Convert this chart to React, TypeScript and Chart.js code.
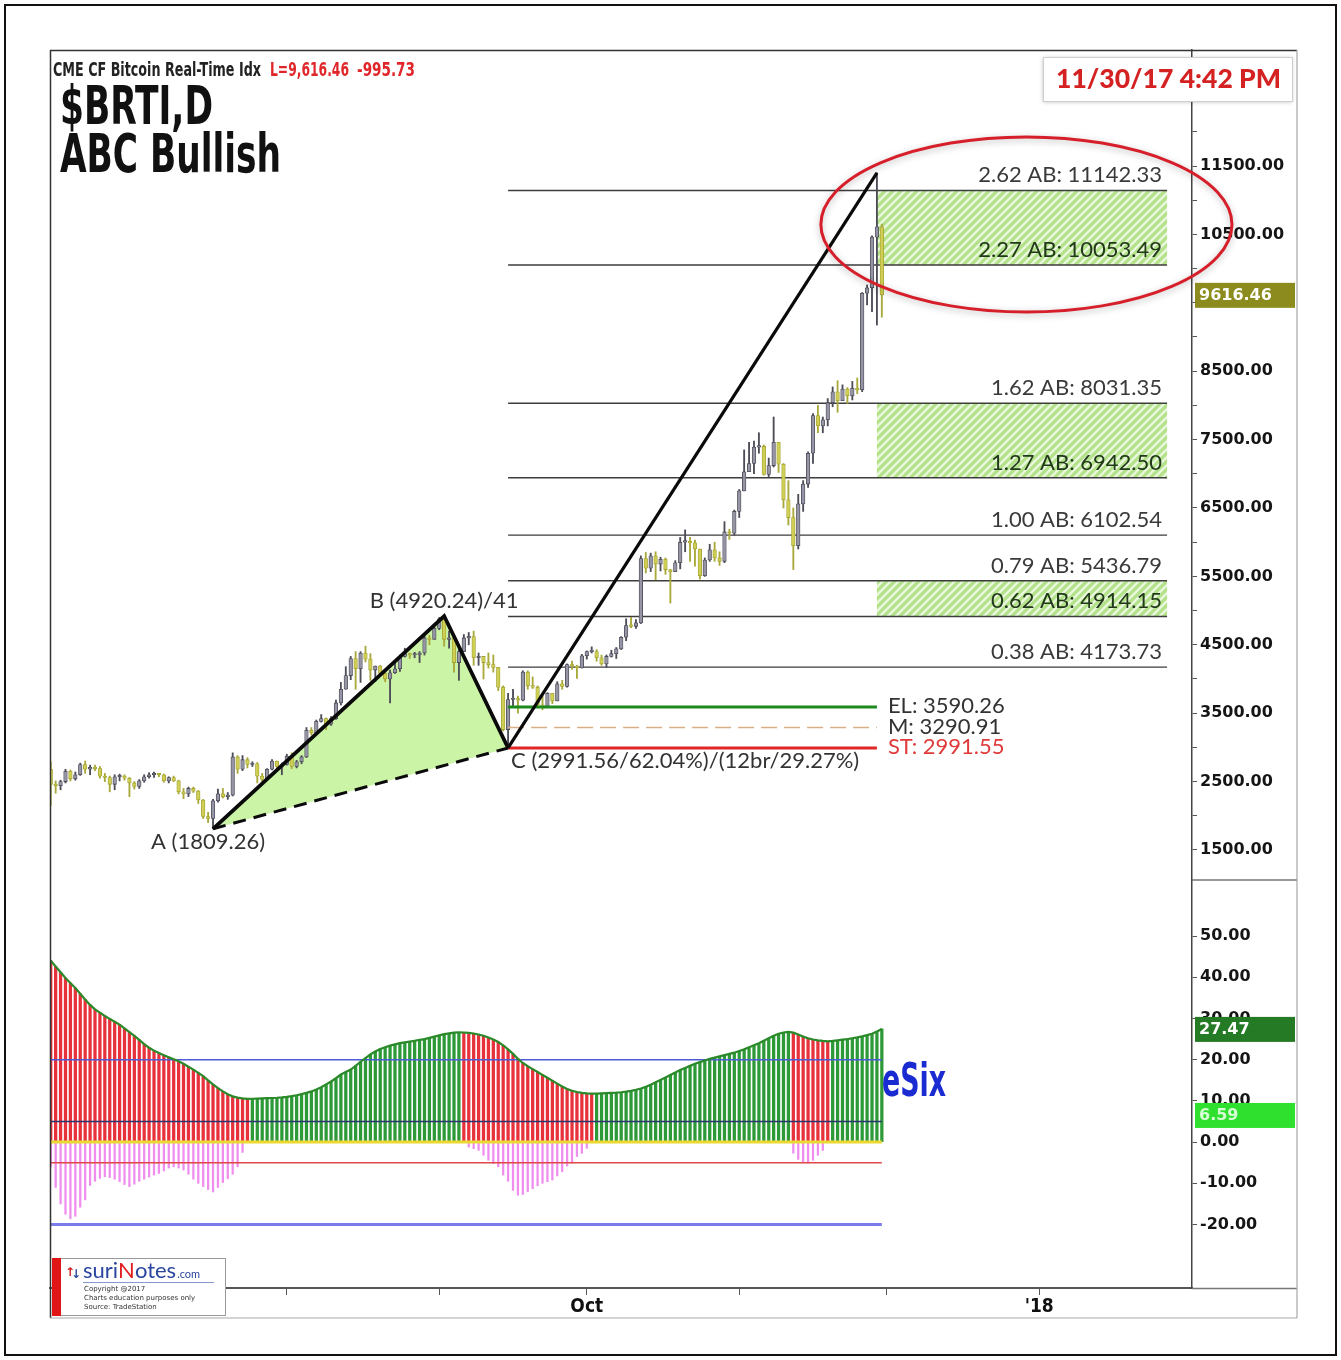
import React, { useEffect, useRef } from 'react';
import { Chart, registerables } from 'chart.js';

Chart.register(...registerables);

const CANVAS_W = 1341;
const CANVAS_H = 1360;

// ---- price data: day 0 = 14 Jun 2017, one bar per calendar day, last = 30 Nov 2017 ----
const candleOpen = [
  2680, 2460, 2440, 2500, 2650, 2540, 2600, 2750, 2680, 2710,
  2690, 2580, 2560, 2460, 2570, 2580, 2550, 2480, 2430, 2510,
  2570, 2600, 2610, 2600, 2510, 2560, 2510, 2350, 2320, 2400,
  2360, 2230, 1990, 1960, 2220, 2320, 2280, 2300, 2860, 2680,
  2820, 2750, 2760, 2580, 2530, 2680, 2800, 2720, 2750, 2870,
  2720, 2790, 2860, 3250, 3210, 3380, 3420, 3340, 3420, 3650,
  3850, 4050, 4300, 4150, 4380, 4290, 4130, 4190, 4080, 4000,
  4090, 4150, 4330, 4370, 4350, 4350, 4380, 4600, 4580, 4740,
  4880, 4580, 4600, 4240, 4400, 4600, 4620, 4310, 4330, 4240,
  4210, 4170, 3880, 3260, 3700, 3700, 3690, 4100, 3900, 3880,
  3620, 3600, 3790, 3680, 3930, 3890, 4210, 4190, 4160, 4340,
  4400, 4400, 4310, 4220, 4330, 4370, 4440, 4610, 4780, 4770,
  4820, 5760, 5620, 5800, 5680, 5750, 5600, 5570, 5700, 6000,
  6010, 5990, 5900, 5510, 5740, 5890, 5770, 5720, 6150, 6130,
  6450, 6750, 7030, 7150, 7390, 7400, 6990, 7120, 7460, 7140,
  6620, 6360, 5950, 6560, 6850, 7300, 7850, 7700, 7790, 8040,
  8200, 8070, 8240, 8140, 8250, 8230, 9640, 9720, 10460, 10612.19,
];
const candleHigh = [
  2790, 2510, 2520, 2680, 2670, 2640, 2770, 2800, 2740, 2740,
  2720, 2620, 2580, 2600, 2610, 2600, 2560, 2500, 2530, 2600,
  2630, 2640, 2620, 2610, 2570, 2580, 2520, 2400, 2420, 2420,
  2370, 2240, 2050, 2240, 2390, 2400, 2340, 2920, 2880, 2880,
  2850, 2790, 2780, 2620, 2690, 2820, 2800, 2770, 2900, 2920,
  2810, 2880, 3290, 3290, 3400, 3480, 3430, 3450, 3690, 3950,
  4180, 4330, 4400, 4400, 4480, 4370, 4190, 4200, 4100, 4130,
  4250, 4350, 4450, 4380, 4390, 4400, 4630, 4640, 4760, 4900,
  4920.24, 4700, 4600, 4450, 4650, 4680, 4700, 4380, 4330, 4380,
  4350, 4170, 3900, 3790, 3850, 3750, 4120, 4120, 4030, 3900,
  3760, 3800, 3790, 3960, 3980, 4220, 4260, 4200, 4360, 4410,
  4470, 4430, 4350, 4350, 4420, 4460, 4620, 4880, 4900, 4870,
  5800, 5850, 5840, 5860, 5780, 5770, 5600, 5730, 6070, 6180,
  6070, 6030, 5900, 5770, 5970, 6000, 5860, 6300, 6190, 6470,
  6770, 7350, 7460, 7480, 7600, 7420, 7230, 7830, 7460, 7150,
  6900, 6500, 6700, 6900, 7320, 7880, 8000, 7830, 8100, 8270,
  8360, 8300, 8260, 8350, 8400, 9650, 9760, 10480, 11400, 10650,
];
const candleLow = [
  2150, 2330, 2380, 2480, 2510, 2520, 2590, 2620, 2600, 2660,
  2550, 2500, 2350, 2380, 2510, 2520, 2280, 2390, 2400, 2490,
  2550, 2560, 2570, 2490, 2480, 2500, 2320, 2250, 2280, 2340,
  2180, 1960, 1900, 1809.26, 2200, 2260, 2240, 2290, 2620, 2660,
  2700, 2720, 2480, 2460, 2520, 2670, 2690, 2600, 2740, 2690,
  2700, 2760, 2850, 3180, 3200, 3370, 3260, 3320, 3410, 3620,
  3850, 3990, 3850, 3950, 4250, 3980, 3960, 4040, 3960, 3650,
  4080, 4110, 4320, 4300, 4310, 4240, 4350, 4500, 4580, 4720,
  4480, 4450, 4100, 3980, 4400, 4500, 4200, 4200, 4000, 4160,
  4100, 3830, 3240, 2991.56, 3580, 3500, 3680, 3850, 3860, 3580,
  3550, 3580, 3640, 3680, 3850, 3880, 4140, 4010, 4160, 4290,
  4380, 4260, 4200, 4170, 4320, 4300, 4430, 4560, 4750, 4740,
  4810, 5550, 5570, 5450, 5580, 5530, 5110, 5570, 5610, 5860,
  5720, 5650, 5460, 5500, 5720, 5720, 5660, 5700, 6040, 6100,
  6360, 6750, 7030, 7000, 7300, 6980, 6960, 7100, 7020, 6500,
  6250, 5600, 5900, 6450, 6800, 7150, 7600, 7600, 7700, 7980,
  7900, 8070, 8030, 8080, 8170, 8200, 9470, 9370, 9175, 9290,
];
const candleClose = [
  2460, 2440, 2500, 2650, 2540, 2600, 2750, 2680, 2710, 2690,
  2580, 2560, 2460, 2570, 2580, 2550, 2480, 2430, 2510, 2570,
  2600, 2610, 2600, 2510, 2560, 2510, 2350, 2320, 2400, 2360,
  2230, 1990, 1960, 2220, 2320, 2280, 2300, 2860, 2680, 2820,
  2750, 2760, 2580, 2530, 2680, 2800, 2720, 2750, 2870, 2720,
  2790, 2860, 3250, 3210, 3380, 3420, 3340, 3420, 3650, 3850,
  4050, 4300, 4150, 4380, 4290, 4130, 4190, 4080, 4000, 4090,
  4150, 4330, 4370, 4350, 4350, 4380, 4600, 4580, 4740, 4880,
  4580, 4600, 4240, 4400, 4600, 4620, 4310, 4330, 4240, 4210,
  4170, 3880, 3260, 3700, 3700, 3690, 4100, 3900, 3880, 3620,
  3600, 3790, 3680, 3930, 3890, 4210, 4190, 4160, 4340, 4400,
  4400, 4310, 4220, 4330, 4370, 4440, 4610, 4780, 4770, 4820,
  5760, 5620, 5800, 5680, 5750, 5600, 5570, 5700, 6000, 6010,
  5990, 5900, 5510, 5740, 5890, 5770, 5720, 6150, 6130, 6450,
  6750, 7030, 7150, 7390, 7400, 6990, 7120, 7460, 7140, 6620,
  6360, 5950, 6560, 6850, 7300, 7850, 7700, 7790, 8040, 8200,
  8070, 8240, 8140, 8250, 8230, 9640, 9720, 10460, 10612.19, 9616.46,
];

// ---- eSix indicator ----
const esixHist = [
  44.0, 42.6, 41.2, 39.8, 38.6, 37.4, 36.0, 34.6, 33.3, 32.2,
  31.4, 30.6, 29.9, 29.2, 28.5, 27.6, 26.7, 25.8, 24.8, 23.8,
  22.9, 22.2, 21.6, 21.1, 20.6, 20.1, 19.6, 19.0, 18.3, 17.6,
  16.8, 16.0, 15.0, 14.0, 13.1, 12.3, 11.6, 11.1, 10.8, 10.6,
  10.5, 10.52, 10.56, 10.6, 10.65, 10.7, 10.76, 10.85, 10.98, 11.15,
  11.38, 11.65, 11.95, 12.3, 12.75, 13.3, 14.0, 14.7, 15.5, 16.4,
  17.0, 17.6, 18.5, 19.5, 20.4, 21.3, 22.0, 22.6, 23.0, 23.4,
  23.7, 24.0, 24.2, 24.4, 24.6, 24.8, 25.0, 25.3, 25.6, 25.9,
  26.2, 26.4, 26.55, 26.65, 26.6, 26.5, 26.35, 26.1, 25.8, 25.4,
  24.9, 24.3, 23.5, 22.5, 21.4, 20.2, 19.2, 18.4, 17.7, 17.0,
  16.3, 15.6, 14.9, 14.2, 13.5, 12.9, 12.45, 12.15, 11.95, 11.82,
  11.75, 11.78, 11.82, 11.87, 11.93, 12.0, 12.1, 12.25, 12.45, 12.7,
  13.0, 13.4, 13.9, 14.5, 15.1, 15.7, 16.3, 16.9, 17.5, 18.0,
  18.5, 19.0, 19.4, 19.8, 20.2, 20.5, 20.8, 21.1, 21.4, 21.7,
  22.1, 22.5, 23.0, 23.5, 24.0, 24.6, 25.2, 25.8, 26.3, 26.6,
  26.75, 26.55, 26.1, 25.6, 25.2, 24.9, 24.7, 24.55, 24.45, 24.55,
  24.7, 24.85, 25.0, 25.2, 25.4, 25.65, 25.95, 26.3, 26.85, 27.47,
];
const dipJulStart = 0;
const esixDipJul = [
  -6, -11, -15, -17.5, -18.6, -18, -15.8, -14, -10.5, -9.5,
  -8.8, -8.4, -8.6, -9, -9.6, -10.3, -10.8, -10.2, -9.5, -9,
  -8.5, -8, -7.6, -7, -6.3, -6, -6.3, -6.8, -7.8, -9,
  -10, -10.8, -11.5, -12.1, -11, -9.8, -8.9, -7.8, -6, -2.5,
];
const dipSepStart = 85;
const esixDipSep = [
  -1.2, -1.6, -2, -3.2, -4.4, -5.2, -6, -8, -9.5, -11.7,
  -12.9, -12.7, -12, -11.3, -10.6, -10, -9.6, -9.2, -8.2, -7.2,
  -5.8, -5.1, -3.5, -2.7, -1.5,
];
const dipNovStart = 151;
const esixDipNov = [-2.7, -4.2, -5, -5.1, -4.4, -3.2, -2];
const esixLevels = [20, 5, 0, -5, -20];
const esixLevelColors = ['#4b5bd6', '#2c3472', '#ecd832', '#e04848', '#7b7bea'];
const esixLevelWidths = [1.5, 1.5, 3, 1.5, 3];
const esixLastMain = 27.47;
const esixLastSignal = 6.59;

// ---- axes ----
const xMin = -0.15;
const xMax = 232.07;
const monthTickDays = [17, 48, 79, 109, 140, 170, 201];
const monthTickLabels = ['', '', '', 'Oct', '', '', "'18"];
const priceMin = 1061;
const priceMax = 13196;
const priceTicks = [1500, 2000, 2500, 3000, 3500, 4000, 4500, 5000, 5500, 6000, 6500, 7000, 7500, 8000, 8500, 9000, 9500, 10000, 10500, 11000, 11500, 12000, 12500];
const esixMin = -35.4;
const esixMax = 63.6;
const esixTicks = [-20, -10, 0, 10, 20, 30, 40, 50];

// ---- pattern / levels ----
const abcDays = [33, 80, 93];
const abcPrices = [1809.26, 4920.24, 2991.56];
const abcLabels = ['A (1809.26)', 'B (4920.24)/41', 'C (2991.56/62.04%)/(12br/29.27%)'];
const dDay = 168;
const dPrice = 11400;
const fibRatios = ['2.62', '2.27', '1.62', '1.27', '1.00', '0.79', '0.62', '0.38'];
const fibPrices = [11142.33, 10053.49, 8031.35, 6942.5, 6102.54, 5436.79, 4914.15, 4173.73];
const fibZoneLow = [10053.49, 6942.5, 4914.15];
const fibZoneHigh = [11142.33, 8031.35, 5436.79];
const fibEndDay = 227;
const zoneStartDay = 168;
const tradeNames = ['EL', 'M', 'ST'];
const tradePrices = [3590.26, 3290.91, 2991.55];
const tradeColors = ['#1c8a1c', '#d9ae84', '#e02626'];
const tradeLabelColors = ['#333', '#333', '#e03a3a'];
const tradeEndDay = 168;
const lastPrice = 9616.46;
const lastChange = -995.73;
const stampText = '11/30/17 4:42 PM';
const ellipseDay = 198.4;
const ellipsePrice = 10645;
const ellipseHalfDays = 41.8;
const ellipseHalfPrice = 1280;

const NARROW = '"Liberation Sans Narrow", "DejaVu Sans Condensed", sans-serif';
const LATO = 'Lato, "Open Sans", sans-serif';
const AXISF = '"DejaVu Sans", Verdana, sans-serif';

const days = candleOpen.map((_, i) => i);
const isUp = (i: number) => candleClose[i] >= candleOpen[i];

function fitText(ctx: any, text: string, x: number, y: number, width: number, font: string, color: string) {
  ctx.save();
  ctx.font = font;
  ctx.fillStyle = color;
  ctx.textAlign = 'left';
  ctx.textBaseline = 'alphabetic';
  const w = ctx.measureText(text).width;
  ctx.translate(x, y);
  ctx.scale(width / w, 1);
  ctx.fillText(text, 0, 0);
  ctx.restore();
}

function makeHatch(ctx: any) {
  const c = document.createElement('canvas');
  c.width = 8;
  c.height = 8;
  const g = c.getContext('2d')!;
  g.fillStyle = '#b3e28b';
  g.fillRect(0, 0, 8, 8);
  g.strokeStyle = '#eaf8de';
  g.lineWidth = 2.3;
  g.beginPath();
  g.moveTo(-2, 10); g.lineTo(10, -2);
  g.moveTo(-2, 2); g.lineTo(2, -2);
  g.moveTo(6, 10); g.lineTo(10, 6);
  g.stroke();
  return ctx.createPattern(c, 'repeat');
}

const overlayPlugin: any = {
  id: 'overlay',
  beforeDraw(chart: any) {
    const ctx = chart.ctx;
    ctx.save();
    ctx.fillStyle = '#fff';
    ctx.fillRect(0, 0, chart.width, chart.height);
    ctx.restore();
  },
  beforeDatasetsDraw(chart: any) {
    const { ctx } = chart;
    const x = chart.scales.x, y = chart.scales.y;
    const pat = makeHatch(ctx);
    const x0 = x.getPixelForValue(zoneStartDay), x1 = x.getPixelForValue(fibEndDay);
    ctx.save();
    fibZoneLow.forEach((lo, i) => {
      const yt = y.getPixelForValue(fibZoneHigh[i]);
      const yb = y.getPixelForValue(lo);
      ctx.fillStyle = pat;
      ctx.fillRect(x0, yt, x1 - x0, yb - yt);
    });
    ctx.restore();
  },
  afterDatasetsDraw(chart: any) {
    const { ctx } = chart;
    const x = chart.scales.x, y = chart.scales.y;
    ctx.save();
    // fib labels
    ctx.font = `22px ${LATO}`;
    ctx.textAlign = 'right';
    ctx.textBaseline = 'alphabetic';
    const xr = x.getPixelForValue(fibEndDay) - 5;
    fibPrices.forEach((p, i) => {
      ctx.fillStyle = fibZoneLow.includes(p) ? '#22381a' : '#3a3a3a';
      ctx.fillText(`${fibRatios[i]} AB: ${p.toFixed(2)}`, xr, y.getPixelForValue(p) - 8);
    });
    // trade level labels
    ctx.textAlign = 'left';
    ctx.textBaseline = 'middle';
    const xl = x.getPixelForValue(tradeEndDay) + 11;
    tradePrices.forEach((p, i) => {
      ctx.fillStyle = tradeLabelColors[i];
      ctx.fillText(`${tradeNames[i]}: ${p.toFixed(2)}`, xl, y.getPixelForValue(p) - 1);
    });
    // ABC labels
    ctx.fillStyle = '#333';
    ctx.font = `22px ${LATO}`;
    ctx.textAlign = 'center';
    ctx.fillText(abcLabels[0], x.getPixelForValue(abcDays[0]) - 5, y.getPixelForValue(abcPrices[0]) + 13);
    ctx.fillText(abcLabels[1], x.getPixelForValue(abcDays[1]), y.getPixelForValue(abcPrices[1]) - 15);
    ctx.textAlign = 'left';
    ctx.fillText(abcLabels[2], x.getPixelForValue(abcDays[2]) + 3, y.getPixelForValue(abcPrices[2]) + 13);
    // ellipse
    const cx = x.getPixelForValue(ellipseDay);
    const rx = x.getPixelForValue(ellipseDay + ellipseHalfDays) - cx;
    const cy = y.getPixelForValue(ellipsePrice);
    const ry = y.getPixelForValue(ellipsePrice - ellipseHalfPrice) - cy;
    ctx.shadowColor = 'rgba(0,0,0,0.28)';
    ctx.shadowBlur = 7;
    ctx.shadowOffsetY = 2;
    ctx.strokeStyle = '#d61f2a';
    ctx.lineWidth = 3;
    ctx.beginPath();
    ctx.ellipse(cx, cy, rx, ry, 0, 0, Math.PI * 2);
    ctx.stroke();
    ctx.restore();
  },
  afterDraw(chart: any) {
    const { ctx, chartArea } = chart;
    const y = chart.scales.y, y2 = chart.scales.y2;
    const right = chartArea.right;
    const frameR = 1297, frameB = 1318;
    ctx.save();
    ctx.strokeStyle = '#777';
    ctx.lineWidth = 1.5;
    ctx.beginPath();
    ctx.moveTo(right, chartArea.bottom + 0.5); ctx.lineTo(frameR, chartArea.bottom + 0.5);
    const divY = y.bottom;
    ctx.moveTo(right, divY); ctx.lineTo(frameR, divY);
    ctx.stroke();

    const tag = (val: number, scale: any, bg: string, fg: string, text: string) => {
      const cy = scale.getPixelForValue(val);
      ctx.fillStyle = bg;
      ctx.fillRect(right + 3, cy - 12, frameR - right - 5, 25);
      ctx.fillStyle = fg;
      ctx.font = `bold 16px ${AXISF}`;
      ctx.textAlign = 'left';
      ctx.textBaseline = 'middle';
      ctx.fillText(text, right + 7, cy + 1);
    };
    tag(lastPrice, y, '#8b8c1d', '#ffffff', lastPrice.toFixed(2));
    tag(esixLastMain, y2, '#257a25', '#ffffff', esixLastMain.toFixed(2));
    tag(esixLastSignal, y2, '#2fe02f', '#d6ffd6', esixLastSignal.toFixed(2));

    ctx.save();
    ctx.shadowColor = 'rgba(0,0,0,0.25)';
    ctx.shadowBlur = 4;
    ctx.shadowOffsetY = 1;
    ctx.fillStyle = '#fff';
    ctx.fillRect(1043, 57, 249, 44);
    ctx.restore();
    ctx.strokeStyle = '#cfcfcf';
    ctx.lineWidth = 1;
    ctx.strokeRect(1043.5, 57.5, 249, 44);
    fitText(ctx, stampText, 1056, 88, 225, `900 26px ${LATO}`, '#d42222');

    fitText(ctx, 'CME CF Bitcoin Real-Time Idx', 53, 76, 208, `bold 19px ${NARROW}`, '#222');
    fitText(ctx, 'L=' + lastPrice.toLocaleString('en-US', { minimumFractionDigits: 2 }), 270, 76, 79, `bold 19px ${NARROW}`, '#e0262a');
    fitText(ctx, lastChange.toFixed(2), 357, 76, 58, `bold 19px ${NARROW}`, '#e0262a');
    fitText(ctx, '$BRTI,D', 60, 124, 153, `bold 53px ${NARROW}`, '#111');
    fitText(ctx, 'ABC Bullish', 60, 172, 221, `bold 53px ${NARROW}`, '#111');

    fitText(ctx, 'eSix', 882, 1096, 64, `bold 46px ${NARROW}`, '#1b2bd2');

    ctx.fillStyle = '#fff';
    ctx.fillRect(52, 1258, 174, 58);
    ctx.strokeStyle = '#9a9a9a';
    ctx.lineWidth = 1;
    ctx.strokeRect(52.5, 1258.5, 173, 57);
    ctx.fillStyle = '#e01515';
    ctx.fillRect(52, 1258, 9, 58);
    ctx.font = `bold 12px ${AXISF}`;
    ctx.textBaseline = 'alphabetic';
    ctx.fillStyle = '#d02020';
    ctx.fillText('↑', 65, 1276);
    ctx.fillStyle = '#2a4aa0';
    ctx.fillText('↓', 71, 1278);
    ctx.font = `22px ${LATO}`;
    let lx = 83;
    const parts: [string, string][] = [['suri', '#2a46a0'], ['N', '#e02020'], ['otes', '#2a46a0']];
    parts.forEach(([t, c]) => { ctx.fillStyle = c; ctx.fillText(t, lx, 1278); lx += ctx.measureText(t).width; });
    ctx.font = `11px ${LATO}`;
    ctx.fillStyle = '#2a46a0';
    ctx.fillText('.com', lx + 1, 1278);
    ctx.strokeStyle = '#8899cc';
    ctx.beginPath(); ctx.moveTo(83, 1282.5); ctx.lineTo(214, 1282.5); ctx.stroke();
    ctx.fillStyle = '#333';
    ctx.font = `7px ${AXISF}`;
    ctx.fillText('Copyright @2017', 84, 1291);
    ctx.fillText('Charts education purposes only', 84, 1300);
    ctx.fillText('Source: TradeStation', 84, 1309);

    ctx.strokeStyle = '#333';
    ctx.lineWidth = 1.5;
    ctx.beginPath();
    ctx.moveTo(50, 50.5); ctx.lineTo(frameR, 50.5);
    ctx.moveTo(50.5, 50); ctx.lineTo(50.5, frameB);
    ctx.stroke();
    ctx.strokeStyle = '#a8a8a8';
    ctx.lineWidth = 1.2;
    ctx.beginPath();
    ctx.moveTo(frameR, 50); ctx.lineTo(frameR, frameB);
    ctx.moveTo(50, frameB); ctx.lineTo(frameR, frameB);
    ctx.stroke();
    ctx.strokeStyle = '#111';
    ctx.lineWidth = 2;
    ctx.strokeRect(5, 5, 1331, 1350);
    ctx.restore();
  },
};

function lineSet(points: { x: number; y: number }[], color: string, width: number, order: number, axis = 'y', extra: any = {}) {
  return {
    type: 'line',
    data: points,
    yAxisID: axis,
    borderColor: color,
    borderWidth: width,
    pointRadius: 0,
    tension: 0,
    fill: false,
    order,
    ...extra,
  };
}

function buildConfig(): any {
  const datasets: any[] = [];
  datasets.push(lineSet(
    [0, 1, 2, 0].map((k) => ({ x: abcDays[k], y: abcPrices[k] })),
    'rgba(0,0,0,0)', 0, 100, 'y', { fill: 'shape', backgroundColor: '#ccf4a6' }));
  fibPrices.forEach((p) => {
    datasets.push(lineSet([{ x: abcDays[2], y: p }, { x: fibEndDay, y: p }], '#3d3d3d', 1.4, 90));
  });
  datasets.push({
    type: 'bar',
    data: days.map((i) => ({ x: i, y: [candleLow[i], candleHigh[i]] })),
    yAxisID: 'y',
    backgroundColor: days.map((i) => (isUp(i) ? '#4d4d58' : '#a9a83a')),
    barThickness: 1.2,
    grouped: false,
    order: 80,
  });
  datasets.push({
    type: 'bar',
    data: days.map((i) => ({ x: i, y: [Math.min(candleOpen[i], candleClose[i]), Math.max(candleOpen[i], candleClose[i])] })),
    yAxisID: 'y',
    backgroundColor: days.map((i) => (isUp(i) ? '#9595a6' : '#cfcf55')),
    borderColor: days.map((i) => (isUp(i) ? '#4a4a55' : '#a3a230')),
    borderWidth: 0.8,
    borderSkipped: false,
    minBarLength: 1.5,
    barThickness: 3.6,
    grouped: false,
    order: 70,
  });
  tradePrices.forEach((p, i) => {
    datasets.push(lineSet([{ x: abcDays[2], y: p }, { x: tradeEndDay, y: p }], tradeColors[i], i === 1 ? 1.5 : 3, 60, 'y',
      i === 1 ? { borderDash: [16, 7] } : {}));
  });
  datasets.push(lineSet([0, 1, 2].map((k) => ({ x: abcDays[k], y: abcPrices[k] })), '#0a0a0a', 3.8, 50));
  datasets.push(lineSet([0, 2].map((k) => ({ x: abcDays[k], y: abcPrices[k] })), '#0a0a0a', 3, 50, 'y', { borderDash: [13, 8] }));
  datasets.push(lineSet([{ x: abcDays[2], y: abcPrices[2] }, { x: dDay, y: dPrice }], '#0a0a0a', 3.2, 50));

  datasets.push({
    type: 'bar',
    data: esixHist.map((v, i) => ({ x: i, y: v })),
    yAxisID: 'y2',
    backgroundColor: esixHist.map((v, i) => (i > 0 && v > esixHist[i - 1] ? '#2d9a37' : '#e8323b')),
    barThickness: 2.6,
    grouped: false,
    order: 40,
  });
  const dips = [
    ...esixDipJul.map((v, k) => ({ x: dipJulStart + k, y: v })),
    ...esixDipSep.map((v, k) => ({ x: dipSepStart + k, y: v })),
    ...esixDipNov.map((v, k) => ({ x: dipNovStart + k, y: v })),
  ];
  datasets.push({
    type: 'bar',
    data: dips,
    yAxisID: 'y2',
    backgroundColor: '#ef8eef',
    barThickness: 1.6,
    grouped: false,
    order: 40,
  });
  esixLevels.forEach((lv, i) => {
    datasets.push(lineSet([{ x: 0, y: lv }, { x: esixHist.length - 1, y: lv }], esixLevelColors[i], esixLevelWidths[i], 30, 'y2'));
  });
  datasets.push(lineSet(esixHist.map((v, i) => ({ x: i, y: v })), '#2a8a2a', 2.2, 20, 'y2'));

  const tickFont = { family: AXISF, size: 16, weight: 'bold' };
  return {
    type: 'bar',
    data: { datasets },
    plugins: [overlayPlugin],
    options: {
      responsive: false,
      animation: false,
      devicePixelRatio: 1,
      events: [],
      layout: { padding: { left: 50, top: 50, right: 44, bottom: 42 } },
      plugins: { legend: { display: false }, tooltip: { enabled: false } },
      scales: {
        x: {
          type: 'linear',
          min: xMin,
          max: xMax,
          offset: false,
          afterBuildTicks: (s: any) => { s.ticks = monthTickDays.map((v) => ({ value: v })); },
          afterFit: (s: any) => { s.height = 30; },
          grid: { drawOnChartArea: false, drawTicks: true, tickLength: 7, color: '#555', offset: false },
          border: { display: true, color: '#555', width: 2 },
          ticks: {
            autoSkip: false, maxRotation: 0, padding: 1, color: '#111',
            font: { family: NARROW, size: 19, weight: 'bold' },
            callback: (v: number) => monthTickLabels[monthTickDays.indexOf(v)] ?? '',
          },
        },
        y: {
          type: 'linear',
          position: 'right',
          stack: 'panes',
          stackWeight: 830,
          min: priceMin,
          max: priceMax,
          afterBuildTicks: (s: any) => { s.ticks = priceTicks.map((v) => ({ value: v })); },
          afterFit: (s: any) => { s.width = 105; },
          grid: { drawOnChartArea: false, drawTicks: true, tickLength: 5, color: '#555' },
          border: { display: true, color: '#444', width: 1.5 },
          ticks: { autoSkip: false, padding: 3, color: '#151515', font: tickFont,
            callback: (v: number) => (v % 1000 === 500 ? v.toFixed(2) : '') },
        },
        y2: {
          type: 'linear',
          position: 'right',
          stack: 'panes',
          stackWeight: 408,
          min: esixMin,
          max: esixMax,
          afterBuildTicks: (s: any) => { s.ticks = esixTicks.map((v) => ({ value: v })); },
          afterFit: (s: any) => { s.width = 105; },
          grid: { drawOnChartArea: false, drawTicks: true, tickLength: 5, color: '#555' },
          border: { display: true, color: '#444', width: 1.5 },
          ticks: { autoSkip: false, padding: 3, color: '#151515', font: tickFont,
            callback: (v: number) => v.toFixed(2) },
        },
      },
    },
  };
}

export default function App() {
  const ref = useRef<HTMLCanvasElement>(null);
  useEffect(() => {
    const chart = new Chart(ref.current as HTMLCanvasElement, buildConfig());
    return () => chart.destroy();
  }, []);
  return (
    <div style={{ position: 'absolute', left: 0, top: 0, width: CANVAS_W, height: CANVAS_H, background: '#fff' }}>
      <canvas ref={ref} width={CANVAS_W} height={CANVAS_H} style={{ display: 'block', width: CANVAS_W, height: CANVAS_H }} />
    </div>
  );
}
